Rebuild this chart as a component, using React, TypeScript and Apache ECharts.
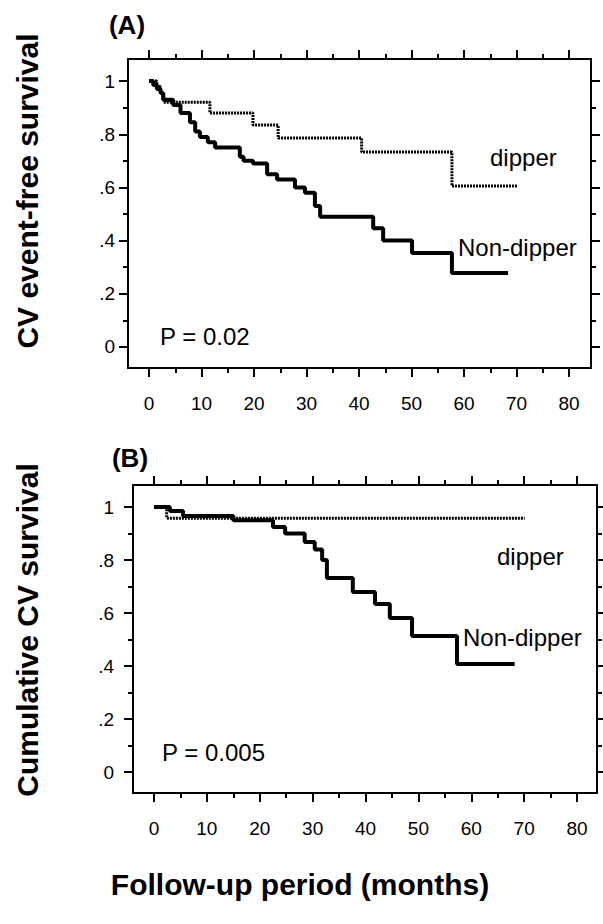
import React, { useEffect, useRef } from "react";
import * as echarts from "echarts";

// ---------- data ----------
const xMajorTicks = [0, 10, 20, 30, 40, 50, 60, 70, 80];
const xMinorTicks = [5, 15, 25, 35, 45, 55, 65, 75];
const yMajorTicks = [0, 0.2, 0.4, 0.6, 0.8, 1];
const yMinorTicks = [0.1, 0.3, 0.5, 0.7, 0.9];
const yTickLabels = ["0", ".2", ".4", ".6", ".8", "1"];

// Panel A: CV event-free survival
const aNonDipperTime = [0, 0.8, 1.5, 2.2, 2.7, 4.6, 6.0, 7.8, 8.8, 9.7, 11.2, 12.6, 17.3, 18.0, 19.8, 22.5, 24.4, 27.8, 29.7, 31.6, 32.6, 42.7, 44.6, 50.1, 57.7, 68.4];
const aNonDipperSurv = [1, 0.985, 0.97, 0.955, 0.93, 0.91, 0.88, 0.845, 0.81, 0.79, 0.77, 0.75, 0.715, 0.70, 0.69, 0.65, 0.63, 0.60, 0.58, 0.53, 0.49, 0.447, 0.40, 0.353, 0.278, 0.278];
const aDipperTime = [0, 1.5, 2.2, 2.8, 11.6, 19.8, 24.6, 40.5, 57.7, 70.3];
const aDipperSurv = [1, 0.98, 0.955, 0.92, 0.88, 0.835, 0.786, 0.733, 0.605, 0.605];

// Panel B: Cumulative CV survival
const bNonDipperTime = [0, 3.0, 5.5, 15, 22.5, 24.8, 28.5, 30.4, 31.8, 32.7, 37.6, 41.8, 44.6, 48.8, 57.3, 68.2];
const bNonDipperSurv = [1, 0.985, 0.966, 0.95, 0.925, 0.90, 0.868, 0.84, 0.80, 0.732, 0.679, 0.634, 0.581, 0.513, 0.408, 0.408];
const bDipperTime = [0, 2.4, 70.1];
const bDipperSurv = [1, 0.958, 0.958];

const panelLabels = ["(A)", "(B)"];
const yTitles = ["CV event-free survival", "Cumulative CV survival"];
const xTitle = "Follow-up period (months)";
const pValues = ["P = 0.02", "P = 0.005"];
const groupNames = ["dipper", "Non-dipper"];

const FONT = "'Liberation Sans', Arial, Helvetica, sans-serif";

function pairs(t: number[], s: number[]) {
  return t.map((v, i) => [v, s[i]]);
}

export default function App() {
  const ref = useRef<HTMLDivElement>(null);
  useEffect(() => {
    document.body.style.margin = "0";
    if (!ref.current) return;
    const chart = echarts.init(ref.current, undefined, { renderer: "svg" });

    const grids = [
      { left: 128, top: 59, width: 463, height: 309, xMin: -4.0, xMax: 84.19, labelMarginX: 26, labelMarginY: 13 },
      { left: 133, top: 485, width: 464, height: 308, xMin: -3.97, xMax: 83.78, labelMarginX: 26, labelMarginY: 19 },
    ];
    const yMin = -0.079;
    const yMax = 1.083;

    const tickStyle = { color: "#000", width: 2 };
    const lineOn = { show: true, onZero: false, lineStyle: { color: "#000", width: 2 } };
    const lineOff = { show: false, onZero: false };
    const xAxes: any[] = [];
    const yAxes: any[] = [];
    grids.forEach((g, gi) => {
      const baseX = {
        gridIndex: gi,
        type: "value",
        min: g.xMin,
        max: g.xMax,
        splitLine: { show: false },
      };
      xAxes.push({
        ...baseX,
        position: "bottom",
        axisLine: lineOn,
        axisTick: { show: true, inside: false, length: 9, customValues: xMajorTicks, lineStyle: tickStyle },
        axisLabel: {
          show: true,
          customValues: xMajorTicks,
          margin: g.labelMarginX,
          color: "#000",
          fontSize: 19,
          fontFamily: FONT,
          formatter: (v: number) => String(v),
        },
      });
      xAxes.push({
        ...baseX,
        position: "bottom",
        axisLine: lineOff,
        axisTick: { show: true, inside: false, length: 5, customValues: xMinorTicks, lineStyle: tickStyle },
        axisLabel: { show: false },
      });
      xAxes.push({
        ...baseX,
        position: "top",
        axisLine: lineOn,
        axisTick: { show: true, inside: false, length: 9, customValues: xMajorTicks, lineStyle: tickStyle },
        axisLabel: { show: false },
      });
      xAxes.push({
        ...baseX,
        position: "top",
        axisLine: lineOff,
        axisTick: { show: true, inside: false, length: 5, customValues: xMinorTicks, lineStyle: tickStyle },
        axisLabel: { show: false },
      });

      const baseY = {
        gridIndex: gi,
        type: "value",
        min: yMin,
        max: yMax,
        splitLine: { show: false },
      };
      yAxes.push({
        ...baseY,
        position: "left",
        axisLine: lineOn,
        axisTick: { show: true, inside: false, length: 9, customValues: yMajorTicks, lineStyle: tickStyle },
        axisLabel: {
          show: true,
          customValues: yMajorTicks,
          margin: g.labelMarginY,
          color: "#000",
          fontSize: 19,
          fontFamily: FONT,
          formatter: (v: number) => {
            const idx = yMajorTicks.findIndex((t) => Math.abs(t - v) < 1e-6);
            return idx >= 0 ? yTickLabels[idx] : "";
          },
        },
      });
      yAxes.push({
        ...baseY,
        position: "left",
        axisLine: lineOff,
        axisTick: { show: true, inside: false, length: 5, customValues: yMinorTicks, lineStyle: tickStyle },
        axisLabel: { show: false },
      });
      yAxes.push({
        ...baseY,
        position: "right",
        axisLine: lineOn,
        axisTick: { show: true, inside: false, length: 9, customValues: yMajorTicks, lineStyle: tickStyle },
        axisLabel: { show: false },
      });
      yAxes.push({
        ...baseY,
        position: "right",
        axisLine: lineOff,
        axisTick: { show: true, inside: false, length: 5, customValues: yMinorTicks, lineStyle: tickStyle },
        axisLabel: { show: false },
      });
    });

    const solid = { color: "#000", width: 4, type: "solid" };
    const dotted = { color: "#000", width: 3, type: [2, 1] };
    const mk = (name: string, gi: number, data: number[][], ls: any) => ({
      name,
      type: "line",
      xAxisIndex: gi * 4,
      yAxisIndex: gi * 4,
      step: "end",
      symbol: "none",
      lineStyle: ls,
      data,
      z: name === groupNames[1] ? 3 : 4,
    });

    const txt = (text: string, x: number, y: number, size: number, bold: boolean, align = "left", rotation = 0) => ({
      type: "text",
      x,
      y,
      rotation,
      style: {
        text,
        fill: "#000",
        font: `${bold ? "bold " : ""}${size}px ${FONT}`,
        textAlign: align,
        textVerticalAlign: "middle",
      },
    });

    chart.setOption({
      animation: false,
      backgroundColor: "#fff",
      grid: grids.map((g) => ({
        left: g.left,
        top: g.top,
        width: g.width,
        height: g.height,
        containLabel: false,
      })),
      xAxis: xAxes,
      yAxis: yAxes,
      series: [
        mk(groupNames[1], 0, pairs(aNonDipperTime, aNonDipperSurv), solid),
        mk(groupNames[0], 0, pairs(aDipperTime, aDipperSurv), dotted),
        mk(groupNames[1], 1, pairs(bNonDipperTime, bNonDipperSurv), solid),
        mk(groupNames[0], 1, pairs(bDipperTime, bDipperSurv), dotted),
      ],
      graphic: [
        txt(panelLabels[0], 127, 25, 26, true, "center"),
        txt(panelLabels[1], 130, 458, 26, true, "center"),
        txt(yTitles[0], 27, 191, 30, true, "center", Math.PI / 2),
        txt(yTitles[1], 27, 630, 30, true, "center", Math.PI / 2),
        txt(xTitle, 300, 884, 30, true, "center"),
        txt(groupNames[0], 490, 157, 24, false),
        txt(groupNames[1], 458, 247, 24, false),
        txt(pValues[0], 160, 336, 24, false),
        txt(groupNames[0], 497, 556, 24, false),
        txt(groupNames[1], 463, 637, 24, false),
        txt(pValues[1], 162, 752, 24, false),
      ],
    });
    return () => chart.dispose();
  }, []);
  return <div ref={ref} style={{ width: 603, height: 924 }} />;
}
